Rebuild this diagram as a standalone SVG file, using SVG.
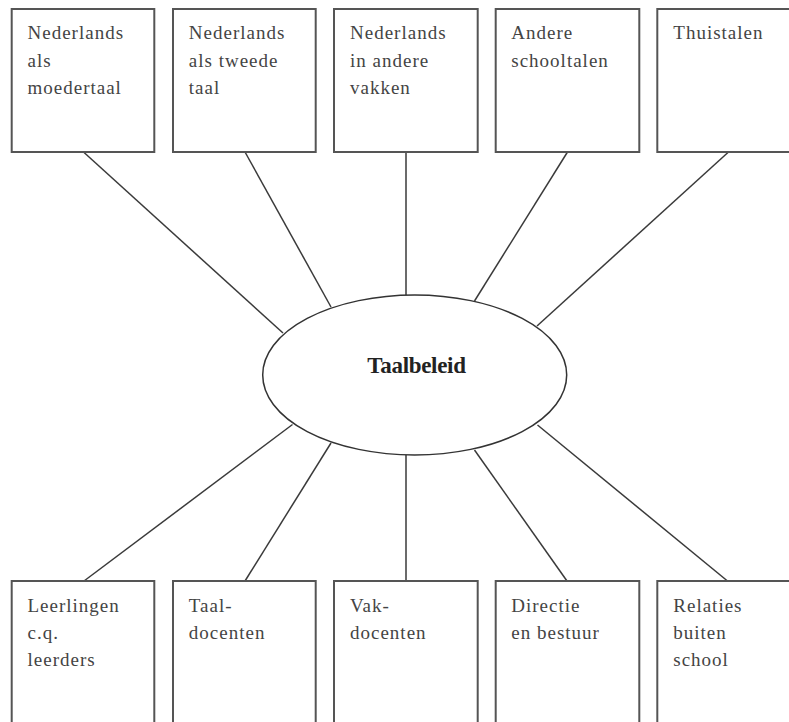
<svg xmlns="http://www.w3.org/2000/svg" width="789" height="722" viewBox="0 0 789 722">
<style>
.box{fill:#fff;stroke:#555;stroke-width:2}
.ell{fill:#fff;stroke:#333;stroke-width:1.5}
.con{stroke:#3a3a3a;stroke-width:1.5;fill:none}
.t{font-family:"Liberation Serif",serif;font-size:19px;letter-spacing:1px;fill:#444}
.c{font-family:"Liberation Serif",serif;font-size:23px;font-weight:bold;letter-spacing:-0.3px;fill:#222;text-anchor:middle}
</style>
<rect width="789" height="722" fill="#fff"/>
<g id="connectors">
<line class="con" x1="83.5" y1="152" x2="283" y2="333"/>
<line class="con" x1="245" y1="152" x2="331" y2="307"/>
<line class="con" x1="406" y1="152" x2="406" y2="295"/>
<line class="con" x1="567.5" y1="152" x2="474.5" y2="301"/>
<line class="con" x1="728.5" y1="152" x2="537" y2="326"/>
<line class="con" x1="292.5" y1="424.5" x2="84" y2="581"/>
<line class="con" x1="331" y1="443" x2="245" y2="581"/>
<line class="con" x1="406" y1="455" x2="406" y2="581"/>
<line class="con" x1="474.5" y1="450" x2="567" y2="581"/>
<line class="con" x1="537.5" y1="425" x2="727.5" y2="581"/>
</g>
<g id="taalbeleid">
<ellipse class="ell" cx="414.7" cy="375" rx="152" ry="80"/>
<text class="c" x="416.5" y="373">Taalbeleid</text>
</g>
<g id="nl-moedertaal">
<rect class="box" x="11.7" y="9" width="142.6" height="143"/>
<text class="t" x="27.5" y="39.3">Nederlands</text>
<text class="t" x="27.5" y="66.7">als</text>
<text class="t" x="27.5" y="94">moedertaal</text>
</g>
<g id="nl-tweede-taal">
<rect class="box" x="173" y="9" width="142.7" height="143"/>
<text class="t" x="188.8" y="39.3">Nederlands</text>
<text class="t" x="188.8" y="66.7">als tweede</text>
<text class="t" x="188.8" y="94">taal</text>
</g>
<g id="nl-andere-vakken">
<rect class="box" x="334" y="9" width="143.7" height="143"/>
<text class="t" x="350" y="39.3">Nederlands</text>
<text class="t" x="350" y="66.7">in andere</text>
<text class="t" x="350" y="94">vakken</text>
</g>
<g id="andere-schooltalen">
<rect class="box" x="495.7" y="9" width="143.6" height="143"/>
<text class="t" x="511.3" y="39.3">Andere</text>
<text class="t" x="511.3" y="66.7">schooltalen</text>
</g>
<g id="thuistalen">
<rect class="box" x="657.3" y="9" width="143.6" height="143"/>
<text class="t" x="673.3" y="39.3">Thuistalen</text>
</g>
<g id="leerlingen">
<rect class="box" x="11.7" y="581" width="142.6" height="150"/>
<text class="t" x="27.5" y="611.7">Leerlingen</text>
<text class="t" x="27.5" y="639">c.q.</text>
<text class="t" x="27.5" y="666.3">leerders</text>
</g>
<g id="taaldocenten">
<rect class="box" x="173" y="581" width="142.7" height="150"/>
<text class="t" x="188.8" y="611.7">Taal-</text>
<text class="t" x="188.8" y="639">docenten</text>
</g>
<g id="vakdocenten">
<rect class="box" x="334" y="581" width="143.7" height="150"/>
<text class="t" x="350" y="611.7">Vak-</text>
<text class="t" x="350" y="639">docenten</text>
</g>
<g id="directie">
<rect class="box" x="495.7" y="581" width="143.6" height="150"/>
<text class="t" x="511.3" y="611.7">Directie</text>
<text class="t" x="511.3" y="639">en bestuur</text>
</g>
<g id="relaties">
<rect class="box" x="657.3" y="581" width="143.6" height="150"/>
<text class="t" x="673.3" y="611.7">Relaties</text>
<text class="t" x="673.3" y="639">buiten</text>
<text class="t" x="673.3" y="666.3">school</text>
</g>
</svg>
